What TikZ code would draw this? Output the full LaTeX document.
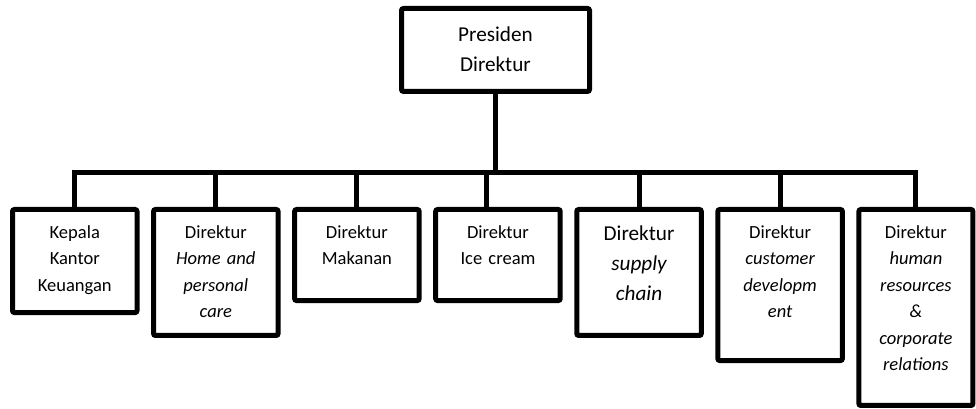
\documentclass[tikz,border=0pt]{standalone}
\usepackage{fontspec}
\setmainfont{Carlito}
\usetikzlibrary{positioning}

\begin{document}
\begin{tikzpicture}[
  x=0.75pt,y=-0.75pt,
  node distance=12.4pt,
  b/.style={draw,line width=3.75pt,rounded corners=1.5pt,inner sep=0pt,
    outer sep=0pt,text width=93.4pt,align=center,text height=21.4pt,
    font=\fontsize{13.9}{19.9}\selectfont},
  big/.style={font=\fontsize{15.9}{22.5}\selectfont},
  w/.style={line width=3.75pt}
]
  \useasboundingbox (0,0) rectangle (976,409);
  \node[b,big,anchor=north,text width=141pt,text height=25.1pt,text depth=37.1pt]
    (presdir) at (495.5,8.5) {Presiden\\Direktur};
  \node[b,anchor=north west,text depth=55.9pt] (keu) at (12.5,209.5)
    {Kepala\\Kantor\\Keuangan};
  \node[b,right=of keu.north east,anchor=north west,text depth=73.1pt] (hpc)
    {Direktur\\\itshape Home and\\personal\\care};
  \node[b,right=of hpc.north east,anchor=north west,text depth=46.9pt] (mkn)
    {Direktur\\Makanan};
  \node[b,right=of mkn.north east,anchor=north west,text depth=46.9pt] (ice)
    {Direktur\\Ice cream};
  \node[b,big,right=of ice.north east,anchor=north west,text height=23.6pt,
    text depth=70.9pt] (scm) {Direktur\\\itshape supply\\chain};
  \node[b,right=of scm.north east,anchor=north west,text depth=91.9pt] (cdv)
    {Direktur\\\itshape customer\\developm\\ent};
  \node[b,right=of cdv.north east,anchor=north west,text width=85.5pt,
    text depth=125.6pt] (hrc)
    {Direktur\\\itshape human\\resources\\\&\\corporate\\relations};
  \coordinate (bar) at (495.5,173);
  \draw[w] (presdir.south) -- (presdir.south |- bar);
  \draw[w] (keu.north) -- (keu.north |- bar) -- (hrc.north |- bar) -- (hrc.north);
  \foreach \n in {hpc,mkn,scm,cdv}
    {\draw[w] (\n.north) -- (\n.north |- bar);}
  \draw[w] ([xshift=-8.8pt]ice.north) -- ([xshift=-8.8pt]ice.north |- bar);
\end{tikzpicture}
\end{document}
